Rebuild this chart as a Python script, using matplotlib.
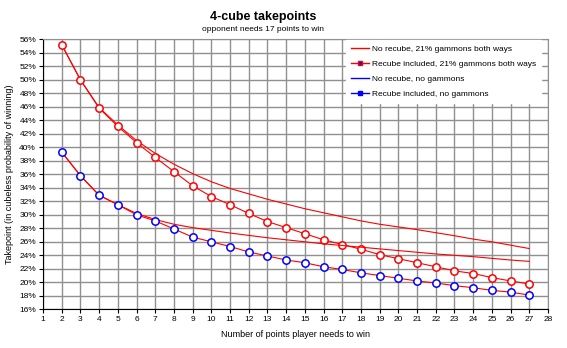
import matplotlib
matplotlib.use("Agg")
import matplotlib.pyplot as plt
from matplotlib.lines import Line2D
from matplotlib.ticker import FuncFormatter

# points player needs to win
points = list(range(2, 28))

# takepoints in %
no_recube_gammons = [55.2, 50.0, 45.9, 43.3, 41.0, 39.1, 37.5, 36.1, 34.9, 33.9, 33.1, 32.3, 31.6,
                     30.9, 30.3, 29.7, 29.1, 28.6, 28.2, 27.8, 27.35, 26.9, 26.4, 26.0, 25.5, 25.0]
recube_gammons = [55.2, 50.0, 45.8, 43.1, 40.7, 38.5, 36.4, 34.3, 32.7, 31.5, 30.2, 29.0, 28.1,
                  27.2, 26.3, 25.6, 24.9, 24.1, 23.5, 22.9, 22.3, 21.7, 21.3, 20.7, 20.2, 19.75]
no_recube_nogammons = [39.3, 35.8, 32.9, 31.5, 30.2, 29.3, 28.6, 28.1, 27.7, 27.3, 26.95, 26.6, 26.3,
                       26.0, 25.7, 25.45, 25.2, 24.95, 24.7, 24.45, 24.2, 24.0, 23.8, 23.55, 23.3, 23.1]
recube_nogammons = [39.3, 35.8, 32.9, 31.5, 30.0, 29.1, 27.9, 26.7, 26.0, 25.3, 24.5, 23.9, 23.3,
                    22.9, 22.3, 21.9, 21.4, 21.0, 20.6, 20.2, 19.9, 19.5, 19.2, 18.8, 18.55, 18.1]

legend_labels = ["No recube, 21% gammons both ways", "Recube included, 21% gammons both ways",
                 "No recube, no gammons", "Recube included, no gammons"]

plt.rcParams['font.family'] = ['Liberation Sans', 'DejaVu Sans']

fig = plt.figure(figsize=(5.67, 3.48), dpi=100)
ax = fig.add_axes([43/567, 1-309.3/348, (548-43)/567, (309.3-39.3)/348])

ax.plot(points, no_recube_gammons, color='red', lw=0.8)
ax.plot(points, recube_gammons, color='red', lw=0.8, marker='o', ms=5.3,
        mfc='white', mec='red', mew=1.1)
ax.plot(points, no_recube_nogammons, color='red', lw=0.8)
ax.plot(points, recube_nogammons, color='red', lw=0.8, marker='o', ms=5.3,
        mfc='white', mec='blue', mew=1.1)

ax.set_xlim(1, 28)
ax.set_ylim(16, 56)
ax.set_xticks(range(1, 29))
ax.set_yticks(range(16, 57, 2))
ax.yaxis.set_major_formatter(FuncFormatter(lambda v, p: "%d%%" % v))
ax.grid(True, color='#909090', lw=1)
ax.set_axisbelow(True)
ax.tick_params(labelsize=6, length=3, width=0.8, pad=2)
for s in ['top', 'right']:
    ax.spines[s].set_color('#909090')
for s in ['left', 'bottom']:
    ax.spines[s].set_color('black')

ax.set_xlabel("Number of points player needs to win", fontsize=6.5, labelpad=5)
ax.set_ylabel("Takepoint (in cubeless probability of winning)", fontsize=6.5, labelpad=4)

fig.text(263/567, 1-20/348, "4-cube takepoints", ha='center', va='baseline',
         fontsize=9, fontweight='bold')
fig.text(263/567, 1-31/348, "opponent needs 17 points to win", ha='center', va='baseline',
         fontsize=6)

handles = [Line2D([], [], color='red', lw=1),
           Line2D([], [], color='red', lw=1, marker='s', ms=3.5, mfc='blue', mec='red'),
           Line2D([], [], color='blue', lw=1),
           Line2D([], [], color='blue', lw=1, marker='s', ms=3.5, mfc='blue', mec='blue')]
leg = ax.legend(handles, legend_labels, loc='upper left', bbox_to_anchor=(0.592, 1.012),
                fontsize=6, frameon=True, fancybox=False, edgecolor='white', framealpha=1,
                handlelength=2.2, labelspacing=0.87, borderpad=0.6, handletextpad=0.3)

fig.savefig("out.png", dpi=100)
